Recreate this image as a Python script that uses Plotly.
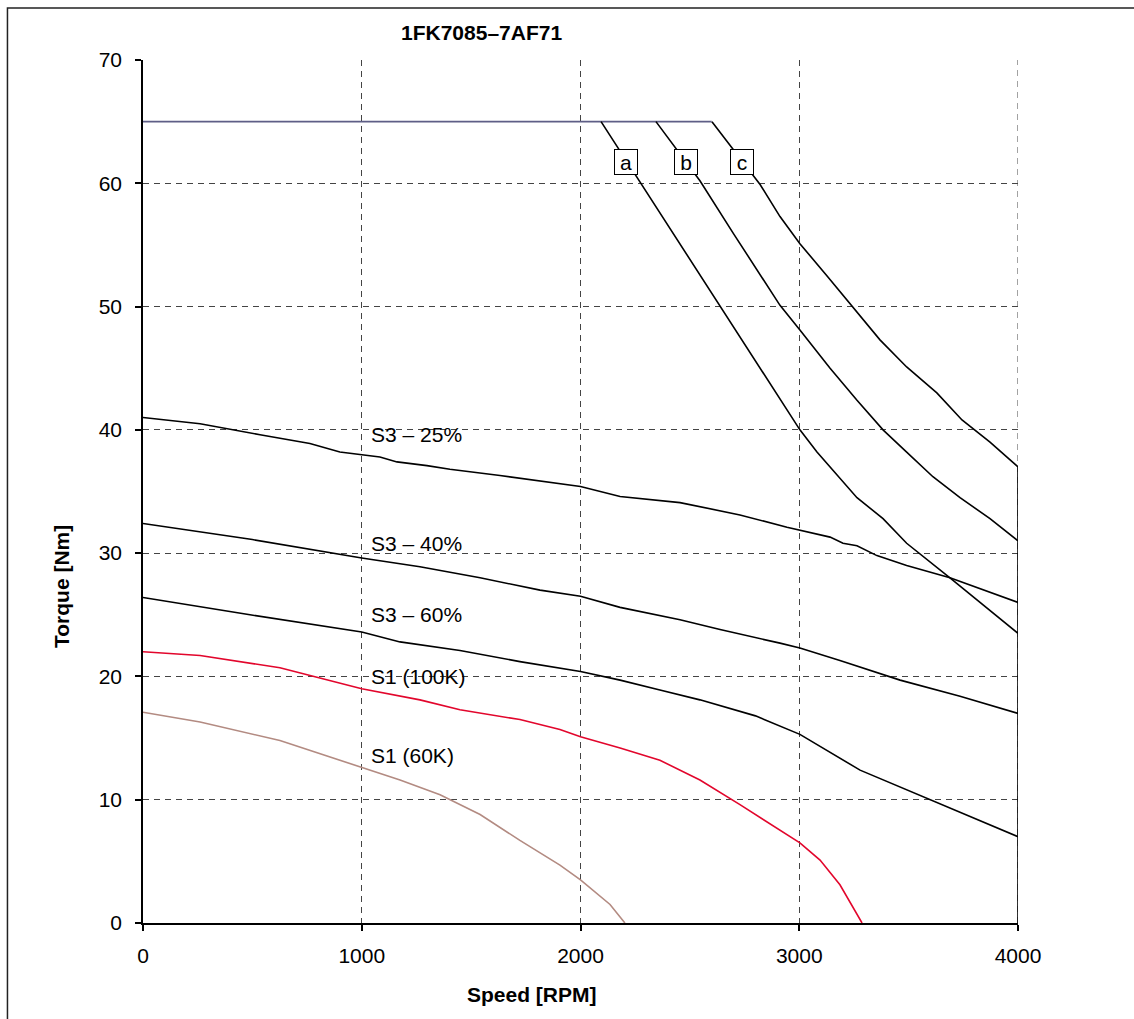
import plotly.graph_objects as go

# ---- data ----
limit_x = [0, 2600]
limit_y = [65, 65]

a_x = [2094, 2272, 2400, 2600, 2731, 3003, 3081, 3264, 3383, 3491, 3689, 3927, 4000]
a_y = [65.0, 60.1, 56.6, 51.0, 47.4, 40.0, 38.2, 34.5, 32.8, 30.8, 28.0, 24.6, 23.5]

b_x = [2345, 2546, 2700, 2830, 2912, 3003, 3141, 3264, 3383, 3491, 3611, 3735, 3872, 4000]
b_y = [65.0, 60.2, 55.9, 52.3, 50.1, 48.1, 45.0, 42.4, 40.0, 38.2, 36.2, 34.5, 32.8, 31.0]

c_x = [2601, 2821, 2912, 3003, 3131, 3369, 3491, 3629, 3744, 3872, 4000, 4000]
c_y = [65.0, 59.9, 57.3, 55.1, 52.4, 47.3, 45.1, 43.0, 40.8, 39.0, 37.0, 0.0]

s3_25_x = [0, 261, 535, 763, 900, 1083, 1161, 1298, 1403, 1632, 2000, 2181, 2455, 2729, 2944, 3141, 3200, 3264, 3355, 3491, 3689, 3872, 4000]
s3_25_y = [41.0, 40.5, 39.6, 38.9, 38.2, 37.8, 37.4, 37.1, 36.8, 36.3, 35.4, 34.6, 34.1, 33.1, 32.1, 31.3, 30.8, 30.6, 29.8, 29.0, 28.0, 26.8, 26.0]

s3_40_x = [0, 500, 1000, 1266, 1541, 1815, 2000, 2181, 2455, 2638, 2912, 3003, 3186, 3461, 3735, 4000]
s3_40_y = [32.4, 31.1, 29.6, 28.9, 28.0, 27.0, 26.5, 25.6, 24.6, 23.8, 22.7, 22.3, 21.3, 19.7, 18.4, 17.0]

s3_60_x = [0, 489, 1000, 1175, 1449, 1723, 2000, 2181, 2363, 2546, 2800, 3003, 3278, 3643, 4000]
s3_60_y = [26.4, 25.0, 23.6, 22.8, 22.1, 21.2, 20.4, 19.7, 18.9, 18.1, 16.8, 15.3, 12.4, 9.7, 7.0]

s1_100_x = [0, 261, 626, 1000, 1266, 1449, 1723, 1906, 2000, 2181, 2363, 2546, 2729, 2912, 3003, 3095, 3186, 3287]
s1_100_y = [22.0, 21.7, 20.7, 19.0, 18.1, 17.3, 16.5, 15.7, 15.1, 14.2, 13.2, 11.6, 9.6, 7.5, 6.5, 5.1, 3.1, 0.0]

s1_60_x = [0, 261, 626, 1000, 1175, 1358, 1541, 1723, 1906, 2000, 2135, 2203]
s1_60_y = [17.1, 16.3, 14.8, 12.6, 11.6, 10.4, 8.8, 6.7, 4.7, 3.5, 1.5, 0.0]

curve_labels = ["S3 – 25%", "S3 – 40%", "S3 – 60%", "S1 (100K)", "S1 (60K)"]
curve_label_x = [1033, 1033, 1033, 1033, 1033]
curve_label_y = [39.6, 30.8, 25.0, 20.0, 13.6]

box_labels = ["a", "b", "c"]
box_x = [2208, 2482, 2738]
box_y = [61.7, 61.7, 61.7]

x_ticks = [0, 1000, 2000, 3000, 4000]
y_ticks = [0, 10, 20, 30, 40, 50, 60, 70]

title_text = "1FK7085–7AF71"
x_title = "Speed [RPM]"
y_title = "Torque [Nm]"

FONT = "Liberation Sans, Arial, sans-serif"
FS = 21
GRID = "#444444"

fig = go.Figure()

# gridline at the right edge (plotly omits it at the range end)
fig.add_shape(type="line", xref="x", yref="y", x0=x_ticks[-1], x1=x_ticks[-1],
              y0=y_ticks[0], y1=y_ticks[-1], layer="below",
              line=dict(color=GRID, width=1, dash="6px,5px"))

def add_line(x, y, color, width=1.6):
    fig.add_trace(go.Scatter(x=x, y=y, mode="lines",
                             line=dict(color=color, width=width),
                             showlegend=False, hoverinfo="skip"))

add_line(limit_x, limit_y, "#5e5e86")
for xs, ys in [(a_x, a_y), (b_x, b_y), (c_x, c_y), (s3_25_x, s3_25_y),
               (s3_40_x, s3_40_y), (s3_60_x, s3_60_y)]:
    add_line(xs, ys, "#000000")
add_line(s1_100_x, s1_100_y, "#e2062c")
add_line(s1_60_x, s1_60_y, "#b38b82")

for t, x, y in zip(curve_labels, curve_label_x, curve_label_y):
    fig.add_annotation(x=x, y=y, text=t, showarrow=False, xanchor="left",
                       yanchor="middle", font=dict(family=FONT, size=FS, color="black"))

for t, x, y in zip(box_labels, box_x, box_y):
    fig.add_annotation(x=x, y=y, text=t, showarrow=False, xanchor="center",
                       yanchor="middle", bgcolor="white", bordercolor="black",
                       borderwidth=1, borderpad=1, width=20, height=22,
                       font=dict(family=FONT, size=FS, color="black"))

fig.add_annotation(xref="paper", yref="paper", x=0.387, y=1.0324, text="<b>" + title_text + "</b>",
                   showarrow=False, xanchor="center", yanchor="middle",
                   font=dict(family=FONT, size=FS, color="black"))
fig.add_annotation(xref="paper", yref="paper", x=0.4446, y=-0.0834, text="<b>" + x_title + "</b>",
                   showarrow=False, xanchor="center", yanchor="middle",
                   font=dict(family=FONT, size=FS, color="black"))
fig.add_annotation(xref="paper", yref="paper", x=-0.0926, y=0.3905, text="<b>" + y_title + "</b>",
                   showarrow=False, xanchor="center", yanchor="middle", textangle=-90,
                   font=dict(family=FONT, size=FS, color="black"))

# outer frame
fig.add_shape(type="rect", xref="paper", yref="paper", x0=-0.1549, x1=1.2, y0=-0.2, y1=1.0603,
              line=dict(color="#222222", width=1.5), fillcolor="rgba(0,0,0,0)", layer="below")

axis_common = dict(showline=True, linecolor="black", linewidth=1.5, ticks="outside",
                   ticklen=6, tickcolor="black", tickwidth=1.5, showgrid=True,
                   gridcolor=GRID, gridwidth=1, griddash="6px,5px", zeroline=False,
                   tickfont=dict(family=FONT, size=FS, color="black"))

fig.update_xaxes(range=[0, 4000], tickvals=x_ticks, ticklabelstandoff=7, **axis_common)
fig.update_yaxes(range=[0, 70], tickvals=y_ticks, ticklabelstandoff=9, **axis_common)

fig.update_layout(width=1134, height=1019, margin=dict(l=143, r=116, t=60, b=96),
                  plot_bgcolor="white", paper_bgcolor="white",
                  font=dict(family=FONT, size=FS, color="black"), hovermode=False)

fig.write_html("out.html")
